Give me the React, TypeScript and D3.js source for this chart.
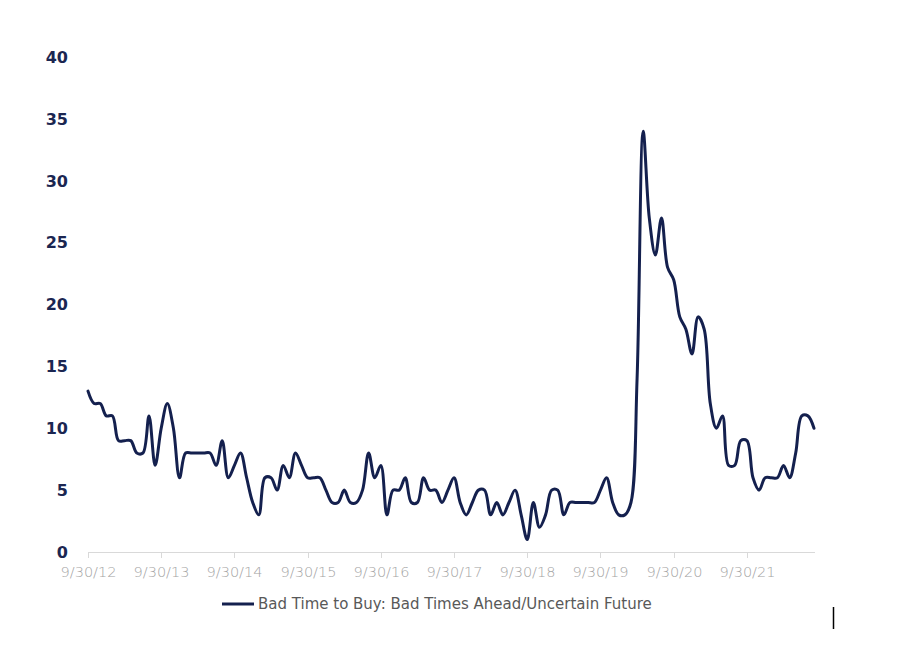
import React from "react";
import * as d3 from "d3";

// Monthly month-end observations, 9/30/12 .. 8/31/22
const startYear = 2012;
const startMonth = 8; // September (0-based)
const values: number[] = [
  13, 12, 12, 11, 11, 9, 9, 9, 8, 8, 11, 7,
  10, 12, 10, 6, 8, 8, 8, 8, 8, 7, 9, 6,
  7, 8, 6, 4, 3, 6, 6, 5, 7, 6, 8, 7,
  6, 6, 6, 5, 4, 4, 5, 4, 4, 5, 8, 6,
  7, 3, 5, 5, 6, 4, 4, 6, 5, 5, 4, 5,
  6, 4, 3, 4, 5, 5, 3, 4, 3, 4, 5, 3,
  1, 4, 2, 3, 5, 5, 3, 4, 4, 4, 4, 4,
  5, 6, 4, 3, 3, 4, 14, 34, 27, 24, 27, 23,
  22, 19, 18, 16, 19, 18, 12, 10, 11, 7, 7, 9,
  9, 6, 5, 6, 6, 6, 7, 6, 8, 11, 11, 10,
];
const categories: string[] = values.map((_, i) => {
  const d = d3.timeDay.offset(d3.timeMonth.offset(new Date(startYear, startMonth + 1, 1), i), -1);
  return d3.timeFormat("%-m/%-d/%y")(d);
});
const yTicks: number[] = [0, 5, 10, 15, 20, 25, 30, 35, 40];
const xTickLabels: string[] = categories.filter((_, i) => i % 12 === 0);
const seriesName = "Bad Time to Buy: Bad Times Ahead/Uncertain Future";

const W = 900;
const H = 652;
const left = 88;
const right = 814;
const top = 57;
const bottom = 552;
const navy = "#14204e";

export default function App() {
  const x = d3.scalePoint<string>().domain(categories).range([left, right]);
  const y = d3.scaleLinear().domain([0, 40]).range([bottom, top]);
  const line = d3
    .line<number>()
    .x((_, i) => x(categories[i]) as number)
    .y((d) => y(d))
    .curve(d3.curveCatmullRom.alpha(0.5));
  const path = line(values) || "";

  return (
    <svg
      width={W}
      height={H}
      style={{ position: "absolute", left: 0, top: 0, background: "#fff" }}
    >
      {/* y labels */}
      {yTicks.map((t) => (
        <text
          key={t}
          x={68}
          y={y(t)}
          dy="0.36em"
          textAnchor="end"
          fontFamily="DejaVu Sans"
          fontWeight="bold"
          fontSize={16}
          fill="#1b2651"
        >
          {t}
        </text>
      ))}
      {/* x axis */}
      <line x1={left} x2={815} y1={bottom + 0.5} y2={bottom + 0.5} stroke="#d9d9d9" strokeWidth={1} />
      {xTickLabels.map((c) => {
        const xx = Math.round(x(c) as number) + 0.5;
        return (
          <g key={c}>
            <line x1={xx} x2={xx} y1={bottom} y2={bottom + 6} stroke="#d9d9d9" strokeWidth={1} />
            <text
              x={xx}
              y={577}
              textAnchor="middle"
              fontFamily="DejaVu Sans"
              fontWeight={300}
              fontSize={14.5}
              fill="#a3a3a3"
            >
              {c}
            </text>
          </g>
        );
      })}
      {/* series */}
      <path d={path} fill="none" stroke={navy} strokeWidth={3} strokeLinejoin="round" strokeLinecap="round" />
      {/* legend */}
      <line x1={222} x2={254} y1={604} y2={604} stroke={navy} strokeWidth={3} />
      <text x={258} y={609} fontFamily="DejaVu Sans" fontSize={15} fill="#595959">
        {seriesName}
      </text>
      <line x1={833.5} x2={833.5} y1={607} y2={629} stroke="#000" strokeWidth={1.5} />
    </svg>
  );
}
